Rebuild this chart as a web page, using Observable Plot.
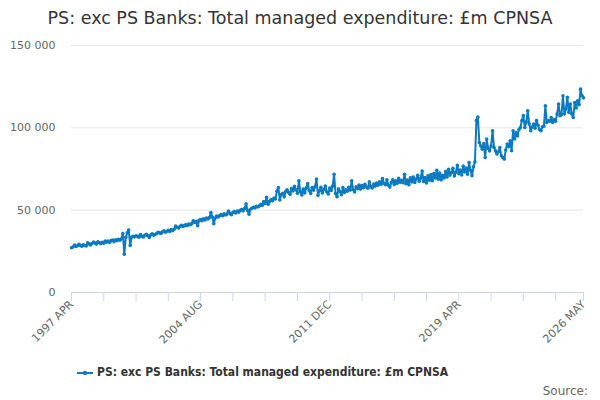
<!DOCTYPE html>
<html><head><meta charset="utf-8">
<script src="https://cdn.jsdelivr.net/npm/d3@7"></script>
<script src="https://cdn.jsdelivr.net/npm/@observablehq/plot@0.6"></script>
<style>
body{margin:0;background:#fff;font-family:"DejaVu Sans",sans-serif;}
#wrap{position:relative;width:600px;height:400px;overflow:hidden;background:#fff;}
#title{position:absolute;top:8px;left:0;width:600px;text-align:center;font-size:17.5px;color:#333;white-space:nowrap;}
#chart{position:absolute;top:38px;left:0;}
#legend{position:absolute;top:365px;left:77px;text-align:left;font-family:"DejaVu Sans Condensed","DejaVu Sans",sans-serif;font-stretch:condensed;font-size:12px;font-weight:bold;color:#333;white-space:nowrap;}
#legend svg{vertical-align:middle;margin-right:4px;}
#source{position:absolute;top:384px;right:12px;font-size:12px;color:#666;}
</style></head>
<body>
<div id="wrap">
  <div id="title">PS: exc PS Banks: Total managed expenditure: £m CPNSA</div>
  <div id="chart"></div>
  <div id="legend"></div>
  <div id="source">Source:</div>
</div>
<script>
const seriesName = "PS: exc PS Banks: Total managed expenditure: £m CPNSA";
const startMonth = "1997 APR";
// monthly values, £m, from 1997 APR (one row per financial year APR..MAR)
const values = [
  27200, 27600, 28800, 27900, 28400, 29200, 28600, 28100, 29000, 28500, 28300, 30200,
  29500, 28900, 29800, 30600, 30100, 29400, 30800, 30300, 29700, 30500, 29900, 31200,
  30600, 31200, 30400, 31500, 31800, 30900, 32000, 31400, 32300, 31800, 32600, 35800,
  23200, 33500, 36200, 38000, 28600, 33600, 34200, 33800, 34500, 34100, 33600, 35200,
  34200, 33700, 34800, 35300, 34500, 33400, 34900, 35600, 34800, 35200, 35800, 36500,
  36200, 35800, 36900, 37400, 36600, 37200, 37800, 37100, 38200, 37600, 38400, 40300,
  39600, 39100, 40200, 40800, 40100, 40600, 41300, 40700, 41500, 41100, 41800, 43600,
  42500, 43200, 40600, 43800, 44300, 43600, 44800, 44100, 45200, 44600, 45500, 48600,
  45800, 41800, 45200, 46400, 45900, 46800, 47300, 46600, 47800, 47100, 47600, 49400,
  47900, 47200, 48600, 49100, 48300, 49500, 48800, 49900, 50400, 49600, 51000, 53800,
  49800, 47500, 50600, 51200, 51800, 51300, 52400, 51900, 52600, 53500, 52800, 55200,
  54100, 57800, 53600, 55200, 56400, 55700, 57300, 56800, 61500, 63800, 56200, 59500,
  60200, 58100, 61400, 62300, 60800, 59600, 63100, 61700, 64500, 62400, 60300, 67900,
  61300, 59200, 62800, 60400, 63500, 66100, 61900, 60200, 63800, 62100, 64200, 68900,
  59000, 61800, 63900, 60400, 62500, 64700, 61200, 59800, 63400, 62000, 64600, 71800,
  60100, 58200, 62900, 61300, 59400, 63700, 60800, 62400, 61500, 63900, 62200, 67800,
  62400, 61000, 64200, 63100, 65300, 62800, 64900, 63600, 65700, 64100, 63300, 67200,
  64300, 63500, 65800, 64600, 66400, 65100, 67300, 65800, 69200, 66200, 65400, 68500,
  65200, 64000, 66900, 68400, 65600, 67800, 66300, 69300, 67000, 68100, 66700, 71800,
  66100, 68300, 65400, 69700, 67200, 70100, 66800, 68900, 71200, 67600, 69400, 73800,
  67400, 69800, 66500, 70900, 68200, 71600, 67900, 72300, 69500, 74200, 68800, 72600,
  68400, 71200, 69600, 73500, 70200, 74800, 71300, 72900, 75400, 70800, 73100, 77200,
  72100, 74300, 71400, 76800, 73200, 75600, 71800, 78900, 74200, 70900, 76300, 79400,
  104500, 106500, 91000, 89000, 87000, 90500, 82000, 93200, 87500, 86000, 89000, 98200,
  88100, 86000, 84100, 85500, 88000, 83000, 82000, 81000, 86500, 90200, 88500, 92200,
  86100, 98200, 93200, 97200, 95000, 99000, 100200, 104400, 107400, 100200, 103500, 110400,
  102300, 98200, 100500, 102300, 99800, 104400, 101500, 99000, 98200, 100600, 101000, 113400,
  103300, 104400, 104000, 106200, 103300, 105100, 104000, 108400, 114500, 107400, 108000, 119500,
  108400, 111400, 118500, 109400, 114500, 108400, 106300, 115400, 112000, 116400, 114000, 123500,
  119500, 118200
];
const yTicks = [0, 50000, 100000, 150000];
const xTickLabels = ["1997 APR", "2004 AUG", "2011 DEC", "2019 APR", "2026 MAY"];
const xLabelIndex = [0, 88, 176, 264, 349];
const xMinorIndex = [0, 22, 44, 66, 88, 110, 132, 154, 176, 198, 220, 242, 264, 286, 308, 330, 349];

const color = "#0a7bc2";
const data = values.map((v, i) => ({i, v}));
const fmt = v => d3.format(",")(v).replace(/,/g, " ");

const chart = Plot.plot({
  width: 600, height: 320,
  marginLeft: 71, marginRight: 17, marginTop: 7, marginBottom: 66,
  style: {fontFamily: "DejaVu Sans, sans-serif", background: "transparent"},
  x: {domain: [0, values.length - 1], axis: null},
  y: {domain: [0, 150000], axis: null},
  marks: [
    Plot.gridY(yTicks, {stroke: "#e6e6e6", strokeOpacity: 1}),
    Plot.axisY(yTicks, {tickSize: 0, tickPadding: 16, tickFormat: fmt, fontSize: 11, fill: "#666", label: null}),
    Plot.axisX(xMinorIndex, {tickSize: 9, stroke: "#ccd6eb", strokeOpacity: 1, tickFormat: () => "", label: null}),
    Plot.axisX(xLabelIndex, {tickSize: 0, tickPadding: 10, tickRotate: -45, fontSize: 11, fill: "#666", label: null,
      tickFormat: i => xTickLabels[xLabelIndex.indexOf(i)]}),
    Plot.ruleY([0], {stroke: "#ccd6eb"}),
    Plot.line(data, {x: "i", y: "v", stroke: color, strokeWidth: 2}),
    Plot.dot(data, {x: "i", y: "v", r: 1.8, fill: color})
  ]
});
document.getElementById("chart").appendChild(chart);

document.getElementById("legend").innerHTML =
  `<svg width="16" height="10"><line x1="0" y1="5" x2="16" y2="5" stroke="${color}" stroke-width="2"/><circle cx="8" cy="5" r="2.2" fill="${color}"/></svg>` +
  seriesName;
</script>
</body></html>
